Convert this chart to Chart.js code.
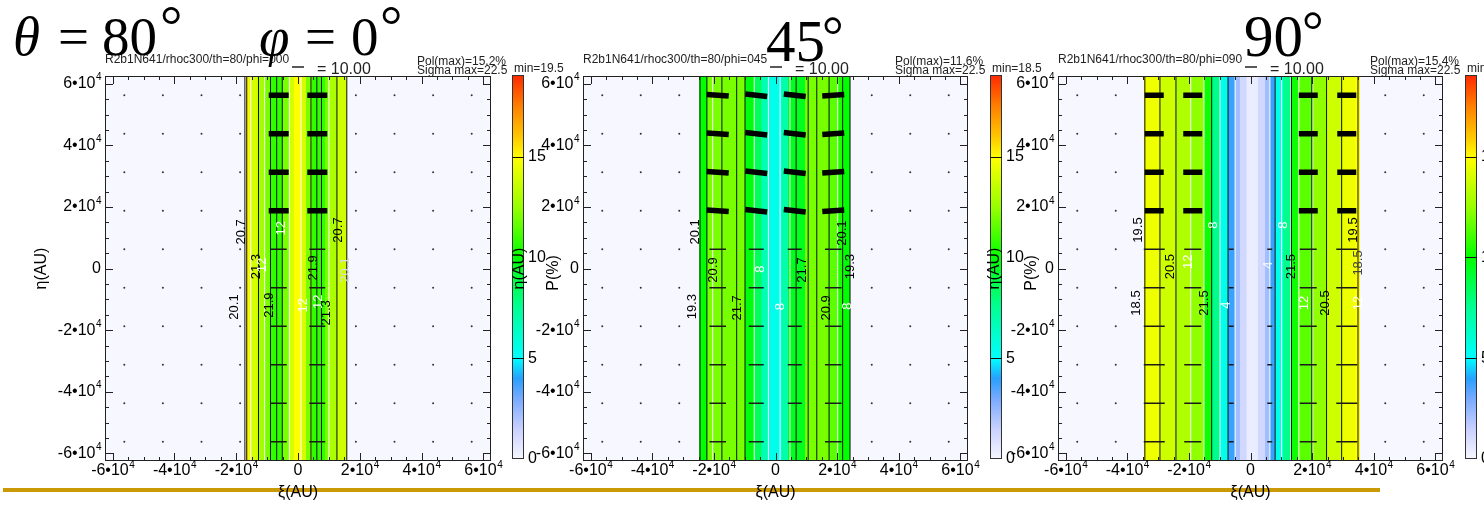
<!DOCTYPE html>
<html>
<head>
<meta charset="utf-8">
<script src="https://cdn.jsdelivr.net/npm/chart.js@4.4.1/dist/chart.umd.min.js"></script>
<style>
html, body { margin: 0; padding: 0; background: #fff; }
body { width: 1484px; height: 510px; position: relative; overflow: hidden; }
canvas { position: absolute; top: 0; }
.big { position: absolute; font-family: "Liberation Serif", "Times New Roman", serif; line-height: 1; color: #000; white-space: nowrap; }
#gold { position: absolute; left: 3px; top: 488px; width: 1377px; height: 4px; background: #c99a06; }
</style>
</head>
<body>
<div id="gold"></div>
<canvas id="c1" width="580" height="510" style="left:0px"></canvas>
<canvas id="c2" width="580" height="510" style="left:478px"></canvas>
<canvas id="c3" width="531" height="510" style="left:953px"></canvas>

<div class="big" style="left:13px;top:9px;font-size:55px;font-style:italic">θ</div>
<div class="big" style="left:58px;top:9px;font-size:55px">=</div>
<div class="big" style="left:102px;top:9px;font-size:55px">80</div>
<div class="big" style="left:160px;top:-2px;font-size:56px">°</div>
<div class="big" style="left:259px;top:9px;font-size:55px;font-style:italic">φ</div>
<div class="big" style="left:305px;top:9px;font-size:55px">=</div>
<div class="big" style="left:351px;top:9px;font-size:55px">0</div>
<div class="big" style="left:380px;top:-2px;font-size:56px">°</div>
<div class="big" style="left:766px;top:12px;font-size:59px">45</div>
<div class="big" style="left:822px;top:9px;font-size:54px">°</div>
<div class="big" style="left:1244px;top:7px;font-size:59px">90</div>
<div class="big" style="left:1302px;top:4px;font-size:54px">°</div>

<script>
// all positions in units of 10^4 AU
const tickVals = [-6, -4, -2, 0, 2, 4, 6];
const cbTicks = [0, 5, 10, 15];
const gridPos = [-5.625, -4.375, -3.125, -1.875, -0.625, 0.625, 1.875, 3.125, 4.375, 5.625];
const rowsThick = [1.875, 3.125, 4.375, 5.625];
const rowsThin = [0.625, -0.625, -1.875, -3.125, -4.375, -5.625];

const titles = ['R2b1N641/rhoc300/th=80/phi=000', 'R2b1N641/rhoc300/th=80/phi=045', 'R2b1N641/rhoc300/th=80/phi=090'];
const polMax = ['15.2', '11.6', '15.4'];
const sigmaMax = ['22.5', '22.5', '22.5'];
const minVals = ['19.5', '18.5', '18.5'];
const cbLines = [[5, 15], [5, 15], [5, 10, 15]];

// P(%) bands across xi (edges and value of each band); outside the bands P = 0
const p1Edges = [-1.69, -1.56, -1.28, -1.07, -0.91, -0.52, -0.26, -0.13, 0.10, 0.26, 0.45, 0.88, 1.01, 1.30, 1.59];
const p1P = [15.2, 14.0, 12.8, 12.0, 10.8, 12.0, 14.0, 15.0, 14.0, 12.0, 10.8, 12.0, 13.0, 13.8];
const p2Edges = [-2.48, -2.20, -0.99, -0.67, -0.45, -0.21, 0.20, 0.41, 0.96, 1.70, 2.03, 2.19, 2.42];
const p2P = [10.0, 12.0, 9.8, 8.5, 6.8, 5.5, 7.0, 9.5, 12.0, 11.5, 10.5, 10.0];
const p3Edges = [-3.46, -2.94, -2.42, -1.94, -1.51, -1.25, -0.99, -0.73, -0.50, -0.34, -0.12, 0.24, 0.47, 0.63, 0.80, 1.06, 1.31, 1.54, 1.99, 2.47, 2.96, 3.39, 3.56];
const p3P = [14.6, 13.8, 13.1, 12.4, 10.2, 7.7, 5.5, 3.8, 2.2, 1.2, 0.4, 1.2, 2.2, 3.8, 5.5, 7.7, 10.2, 11.5, 12.4, 13.8, 14.6, 15.0];

// contour lines (black = Sigma, white = P)
const p1Black = [-1.72, -1.66, -1.28, -0.89, -0.69, -0.51, 0.42, 0.61, 0.76, 1.26, 1.58];
const p1White = [-1.53, -1.08, -0.28, 0.10, 1.00];
const p2Black = [-2.45, -2.23, -1.74, -1.26, -0.99, 0.67, 1.06, 1.34, 1.74, 2.18, 2.42];
const p2White = [-2.04, -0.69, -0.23, 0.15, 0.47, 2.02];
const p3Black = [-3.43, -2.94, -2.42, -1.26, -0.73, 0.80, 1.33, 1.99, 2.47, 2.96, 3.49];
const p3White = [-1.94, -1.51, -0.99, -0.50, 0.63, 1.01, 1.31, 1.57, 2.02];

// contour labels: text, xi, eta, colour
const p1Labels = [
  ['20.7', -1.83, 1.19, '#000'], ['12', -0.53, 1.31, '#fff'], ['20.7', 1.30, 1.25, '#000'],
  ['21.3', -1.34, 0.06, '#000'], ['12', -1.15, 0.11, '#fff'], ['21.9', 0.49, 0.02, '#000'],
  ['20.1', 1.53, -0.05, '#ddd'], ['20.1', -2.05, -1.25, '#000'], ['21.9', -0.91, -1.19, '#000'],
  ['12', 0.16, -1.19, '#fff'], ['12', 0.65, -1.08, '#fff'], ['21.3', 0.93, -1.44, '#000']
];
const p2Labels = [
  ['20.1', -2.61, 1.19, '#000'], ['20.9', -2.03, -0.05, '#000'], ['8', -0.50, -0.02, '#fff'],
  ['21.7', 0.89, -0.05, '#000'], ['20.1', 2.18, 1.15, '#000'], ['19.3', -2.70, -1.24, '#000'],
  ['21.7', -1.23, -1.28, '#000'], ['8', 0.17, -1.24, '#fff'], ['20.9', 1.66, -1.28, '#000'],
  ['8', 2.35, -1.22, '#fff'], ['19.3', 2.42, 0.06, '#000']
];
const p3Labels = [
  ['19.5', -3.65, 1.25, '#000'], ['8', -1.22, 1.41, '#fff'], ['8', 1.06, 1.41, '#fff'],
  ['19.5', 3.33, 1.25, '#000'], ['20.5', -2.61, 0.06, '#000'], ['12', -2.00, 0.22, '#fff'],
  ['4', 0.57, 0.11, '#fff'], ['21.5', 1.34, 0.06, '#000'], ['18.5', 3.49, 0.18, '#444'],
  ['18.5', -3.69, -1.12, '#000'], ['21.5', -1.48, -1.12, '#000'], ['4', -0.77, -1.19, '#fff'],
  ['12', 1.74, -1.12, '#fff'], ['20.5', 2.42, -1.12, '#000'], ['12', 3.49, -1.12, '#fff']
];

// polarization vectors: columns and angle (deg)
const p1VecXi = [-0.625, 0.625];
const p1VecAng = [0, 0];
const p2VecXi = [-1.875, -0.625, 0.625, 1.875];
const p2VecAng = [4, 6, 6, -4];
const p3VecXi = [-3.125, -1.875, 1.875, 3.125];
const p3VecAng = [0, 0, 0, 0];
const p3ThinXi = [-3.125, -1.875, -0.625, 0.625, 1.875, 3.125];

// styles
const vecStyle = [
  { thickR: 10, thinR: [8, 8] },
  { thickR: 11, thinR: [8.3, 7.5, 7, 8.3] },
  { thickR: 9.5, thinR: [10.5, 8.5, 2.5, 2.5, 8.5, 10.5] }
];
const FONT = '"Liberation Sans", Arial, sans-serif';
const LIM = 6.25;
const CBMAX = 19.1;

const cmapStops = [
  [0, [247, 247, 255]], [1.5, [200, 208, 255]], [3, [120, 170, 255]], [4, [40, 160, 255]],
  [5, [0, 255, 255]], [7.5, [0, 255, 150]], [10, [0, 255, 0]], [12.5, [150, 255, 0]],
  [15, [255, 255, 0]], [16, [255, 200, 0]], [17.5, [255, 130, 0]], [19.1, [255, 40, 0]]
];

function cmap(v) {
  for (let i = 1; i < cmapStops.length; i++) {
    if (v <= cmapStops[i][0]) {
      const [a, ca] = cmapStops[i - 1], [b, cb] = cmapStops[i];
      const t = Math.max(0, (v - a) / (b - a));
      const c = ca.map((x, k) => Math.round(x + (cb[k] - x) * t));
      return `rgb(${c[0]},${c[1]},${c[2]})`;
    }
  }
  const c = cmapStops[cmapStops.length - 1][1];
  return `rgb(${c[0]},${c[1]},${c[2]})`;
}

const panels = [
  { edges: p1Edges, vals: p1P, black: p1Black, white: p1White, labels: p1Labels, vecXi: p1VecXi, vecAng: p1VecAng, thinXi: p1VecXi },
  { edges: p2Edges, vals: p2P, black: p2Black, white: p2White, labels: p2Labels, vecXi: p2VecXi, vecAng: p2VecAng, thinXi: p2VecXi },
  { edges: p3Edges, vals: p3P, black: p3Black, white: p3White, labels: p3Labels, vecXi: p3VecXi, vecAng: p3VecAng, thinXi: p3ThinXi }
];

function band(x0, x1, v, order) {
  return {
    data: [{ x: x0, y: LIM }, { x: x1, y: LIM }], fill: 'start',
    backgroundColor: cmap(v), borderColor: 'rgba(0,0,0,0)', borderWidth: 0, pointRadius: 0, order
  };
}

function buildDatasets(i) {
  const p = panels[i], st = vecStyle[i];
  const ds = [];
  // P = 0 background over the whole map
  ds.push(band(-LIM, LIM, 0, 200));
  const dots = [];
  gridPos.forEach(y => gridPos.forEach(x => dots.push({ x, y })));
  ds.push({ data: dots, showLine: false, pointRadius: 1, pointBackgroundColor: '#333', pointBorderWidth: 0, order: 100 });

  for (let k = 0; k < p.vals.length; k++) {
    ds.push(band(p.edges[k] - (k > 0 ? 0.03 : 0), p.edges[k + 1], p.vals[k], 50));
  }
  p.black.forEach(x => ds.push({ data: [{ x, y: -LIM }, { x, y: LIM }], borderColor: '#111', borderWidth: 1, pointRadius: 0, fill: false, order: 20 }));
  p.white.forEach(x => ds.push({ data: [{ x, y: -LIM }, { x, y: LIM }], borderColor: '#fff', borderWidth: 1, pointRadius: 0, fill: false, order: 21 }));

  const thick = [], rot = [];
  rowsThick.forEach(y => p.vecXi.forEach((x, k) => { thick.push({ x, y }); rot.push(p.vecAng[k]); }));
  ds.push({ data: thick, showLine: false, pointStyle: 'line', pointRadius: st.thickR, pointBorderColor: '#000', pointBorderWidth: 5.5, pointRotation: rot, order: 1 });

  const thin = [], thinR = [];
  rowsThin.forEach(y => p.thinXi.forEach((x, k) => { thin.push({ x, y }); thinR.push(st.thinR[k]); }));
  ds.push({ data: thin, showLine: false, pointStyle: 'line', pointRadius: thinR, pointBorderColor: '#1a1a1a', pointBorderWidth: 1.5, order: 2 });
  return ds;
}

function sciLabel(ctx, v, x, y, align) {
  const base = v === 0 ? '0' : v + '•10';
  const sup = v === 0 ? '' : '4';
  ctx.font = '16px ' + FONT;
  const wb = ctx.measureText(base).width;
  ctx.font = '10px ' + FONT;
  const ws = ctx.measureText(sup).width;
  const x0 = align === 'right' ? x - wb - ws : x - (wb + ws) / 2;
  ctx.textAlign = 'left';
  ctx.textBaseline = 'middle';
  ctx.font = '16px ' + FONT;
  ctx.fillText(base, x0, y);
  ctx.font = '10px ' + FONT;
  ctx.fillText(sup, x0 + wb + 0.5, y - 6);
}

const panelDeco = {
  id: 'panelDeco',
  afterDatasetsDraw(chart, args, o) {
    const p = panels[o.idx];
    const ctx = chart.ctx, sx = chart.scales.x, sy = chart.scales.y;
    ctx.save();
    ctx.font = '13px ' + FONT;
    ctx.textAlign = 'center';
    ctx.textBaseline = 'middle';
    p.labels.forEach(([t, xi, eta, col]) => {
      ctx.save();
      ctx.translate(sx.getPixelForValue(xi), sy.getPixelForValue(eta));
      ctx.rotate(-Math.PI / 2);
      ctx.fillStyle = col;
      ctx.fillText(t, 0, 0);
      ctx.restore();
    });
    ctx.restore();
  },
  afterDraw(chart, args, o) {
    const i = o.idx;
    const ctx = chart.ctx, a = chart.chartArea, sx = chart.scales.x, sy = chart.scales.y, cb = chart.scales.cb;
    ctx.save();
    // frame and inward ticks
    ctx.strokeStyle = '#222';
    ctx.lineWidth = 1;
    ctx.strokeRect(a.left + 0.5, a.top + 0.5, a.right - a.left - 1, a.bottom - a.top - 1);
    ctx.beginPath();
    for (let v = -6; v <= 6.001; v += 0.5) {
      const len = Math.abs(v % 2) < 1e-6 ? 8 : 4;
      const px = Math.round(sx.getPixelForValue(v)) + 0.5;
      const py = Math.round(sy.getPixelForValue(v)) + 0.5;
      ctx.moveTo(px, a.bottom); ctx.lineTo(px, a.bottom - len);
      ctx.moveTo(px, a.top); ctx.lineTo(px, a.top + len);
      ctx.moveTo(a.left, py); ctx.lineTo(a.left + len, py);
      ctx.moveTo(a.right, py); ctx.lineTo(a.right - len, py);
    }
    ctx.stroke();

    ctx.fillStyle = '#000';
    tickVals.forEach(v => {
      sciLabel(ctx, v, a.left - 4, sy.getPixelForValue(v), 'right');
      sciLabel(ctx, v, sx.getPixelForValue(v), a.bottom + 10, 'center');
    });

    ctx.font = '16px ' + FONT;
    ctx.textAlign = 'center';
    ctx.textBaseline = 'middle';
    ctx.fillText('ξ(AU)', (a.left + a.right) / 2, a.bottom + 32);
    ctx.save();
    ctx.translate(a.left - 63, sy.getPixelForValue(0));
    ctx.rotate(-Math.PI / 2);
    ctx.fillText('η(AU)', 0, 0);
    ctx.restore();

    // header
    ctx.textAlign = 'left';
    ctx.fillStyle = '#222';
    ctx.font = '12px ' + FONT;
    ctx.fillText(titles[i], a.left, 60);
    ctx.fillText('Pol(max)=' + polMax[i] + '%', a.left + 312, 62);
    ctx.fillText('Sigma max=' + sigmaMax[i], a.left + 312, 70.5);
    ctx.fillText('min=' + minVals[i], a.left + 409, 69);
    ctx.font = '16px ' + FONT;
    ctx.fillText('= 10.00', a.left + 212, 70);
    ctx.strokeStyle = '#222';
    ctx.lineWidth = 1.5;
    ctx.beginPath();
    ctx.moveTo(a.left + 187, 67); ctx.lineTo(a.left + 199, 67);
    ctx.stroke();

    // colour bar
    const x0 = a.left + 407, w = 12;
    const top = cb.getPixelForValue(CBMAX) - 1, bot = cb.getPixelForValue(0) - 2;
    const g = ctx.createLinearGradient(0, bot, 0, top);
    cmapStops.forEach(([v]) => g.addColorStop(Math.min(1, v / CBMAX), cmap(v)));
    ctx.fillStyle = g;
    ctx.fillRect(x0, top, w, bot - top);
    ctx.strokeStyle = '#333';
    ctx.lineWidth = 1;
    ctx.strokeRect(x0 + 0.5, top + 0.5, w - 1, bot - top - 1);
    ctx.beginPath();
    cbLines[i].forEach(v => {
      const y = Math.round(cb.getPixelForValue(v) - 2) + 0.5;
      ctx.moveTo(x0, y); ctx.lineTo(x0 + w, y);
    });
    ctx.strokeStyle = '#111';
    ctx.stroke();
    ctx.fillStyle = '#000';
    ctx.font = '16px ' + FONT;
    ctx.textBaseline = 'middle';
    cbTicks.forEach(v => ctx.fillText(String(v), x0 + w + 4, cb.getPixelForValue(v) - 2));
    ctx.save();
    ctx.translate(a.left + 449, 273);
    ctx.rotate(-Math.PI / 2);
    ctx.textAlign = 'center';
    ctx.fillText('P(%)', 0, 0);
    ctx.restore();
    ctx.restore();
  }
};

const canvasW = [580, 580, 531];
const plotW = [386, 385, 385];

[0, 1, 2].forEach(i => {
  new Chart(document.getElementById('c' + (i + 1)), {
    type: 'line',
    data: { datasets: buildDatasets(i) },
    options: {
      responsive: false,
      animation: false,
      events: [],
      layout: { padding: { left: 105, top: 76, bottom: 49, right: canvasW[i] - 105 - plotW[i] } },
      scales: {
        x: { type: 'linear', min: -LIM, max: LIM, display: false },
        y: { type: 'linear', min: -LIM, max: LIM, display: false },
        cb: { type: 'linear', axis: 'y', min: 0, max: CBMAX, display: false }
      },
      plugins: {
        legend: { display: false },
        tooltip: { enabled: false },
        panelDeco: { idx: i }
      }
    },
    plugins: [panelDeco]
  });
});
</script>
</body>
</html>
